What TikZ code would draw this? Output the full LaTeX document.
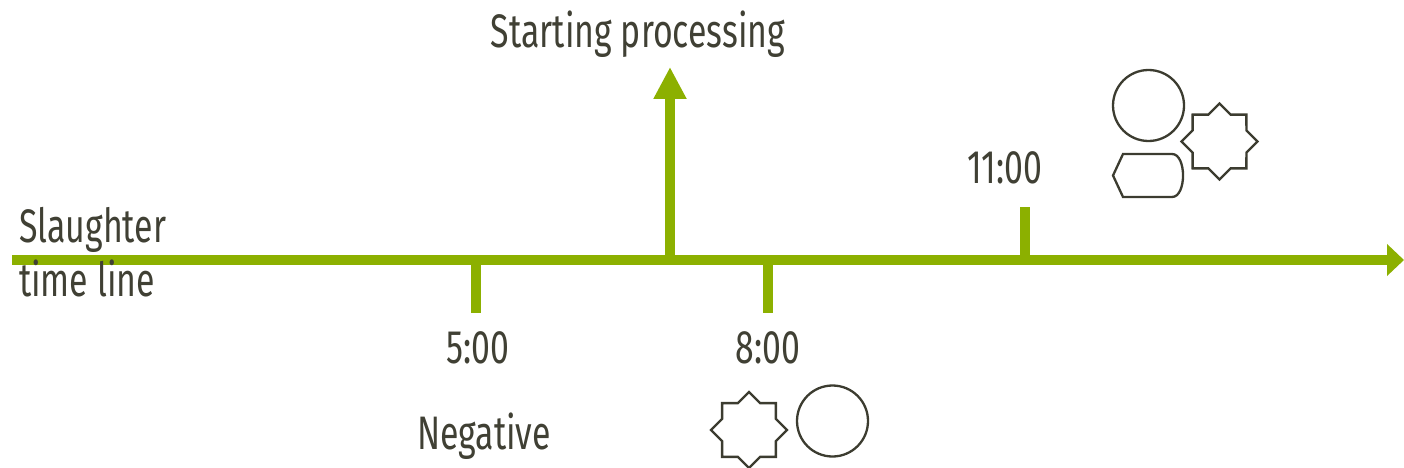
\documentclass[tikz,border=0pt]{standalone}
\usepackage{fontspec}
\setmainfont{Fira Sans}[FakeStretch=0.72]
\usetikzlibrary{arrows.meta,calc}
\definecolor{lineGreen}{RGB}{140,176,0}
\definecolor{inkText}{RGB}{64,64,52}
\definecolor{inkShape}{RGB}{60,60,48}
\tikzset{
  axis/.style={draw=lineGreen, line width=10pt},
  tick/.style={draw=lineGreen, line width=10pt},
  lbl/.style={text=inkText, font=\fontsize{47}{54}\selectfont, inner sep=0pt, anchor=base},
  outline/.style={draw=inkShape, line width=2.3pt, line join=miter},
}
\begin{document}
\begin{tikzpicture}[x=1pt,y=-1pt]
\useasboundingbox (0,0) rectangle (1404,468);

% time axis
\coordinate (axisStart) at (12,260);
\coordinate (axisEnd) at (1404,260);
\draw[axis, -{Triangle[length=17pt,width=31pt]}] (axisStart) -- (axisEnd);

% processing start marker
\coordinate (procBase) at (670,264);
\coordinate (procTop) at (670,67);
\draw[axis, -{Triangle[length=32pt,width=31pt]}] (procBase) -- (procTop);

% hour ticks
\coordinate (t5a) at (476,258);  \coordinate (t5b) at (476,313);
\coordinate (t8a) at (768,258);  \coordinate (t8b) at (768,313);
\coordinate (t11a) at (1025,262); \coordinate (t11b) at (1025,207);
\draw[tick] (t5a) -- (t5b);
\draw[tick] (t8a) -- (t8b);
\draw[tick] (t11a) -- (t11b);

% labels
\node[lbl] (start) at (638,48) {Starting processing};
\node[lbl] (h11) at (1005,183) {11:00};
\node[lbl] (h5) at (478,363) {5:00};
\node[lbl] (h8) at (768,363) {8:00};
\node[lbl] (neg) at (484,449) {Negative};
\node[lbl, anchor=base west] (title1) at (19,242) {Slaughter};
\node[lbl, anchor=base west] (title2) at (19,296) {time line};

% symbols near 11:00
\node[outline, circle, minimum size=71pt, inner sep=0pt] (circA) at (1148.5,105.5) {};
\coordinate (starA) at (1219.5,141.5);
\draw[outline] ($(starA)+(0:38)$)
  \foreach \k in {1,...,15} { -- ($(starA)+({\k*22.5}:{mod(\k,2)==0 ? 38 : 29.1})$) } -- cycle;
\coordinate (dispA) at (1113,175.5);
\draw[outline] (dispA) -- (1123,154) -- (1172,154)
  .. controls (1186.7,154) and (1186.7,197) .. (1172,197)
  -- (1123,197) -- cycle;

% symbols near 8:00
\coordinate (starB) at (749,430);
\draw[outline] ($(starB)+(0:38)$)
  \foreach \k in {1,...,15} { -- ($(starB)+({\k*22.5}:{mod(\k,2)==0 ? 38 : 29.1})$) } -- cycle;
\node[outline, circle, minimum size=71pt, inner sep=0pt] (circB) at (832.5,421) {};
\end{tikzpicture}
\end{document}
